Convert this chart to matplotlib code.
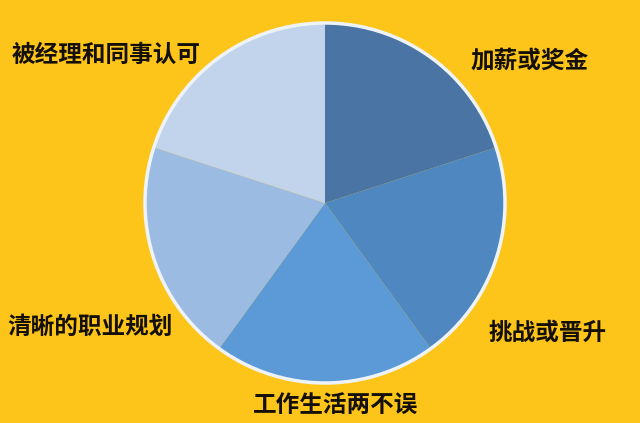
import matplotlib
matplotlib.use("Agg")
import matplotlib.pyplot as plt
from matplotlib.patches import Circle

plt.rcParams['font.family'] = ['Noto Sans CJK SC', 'DejaVu Sans']

# ----- data -----
labels = ["加薪或奖金", "挑战或晋升", "工作生活两不误", "清晰的职业规划", "被经理和同事认可"]
shares = [20, 20, 20, 20, 20]
colors = ["#4a74a4", "#4f87c0", "#5b9ad6", "#9bbbe3", "#c2d3ec"]

# label centres in pixel coords (x, y from top)
label_pos = [(530, 60), (548, 333), (336, 405), (90, 327), (106, 55)]

W, H = 640, 423
CX, CY, R = 325, 203, 180
BG = "#fdc51a"

fig = plt.figure(figsize=(W / 100, H / 100), dpi=100, facecolor=BG)
ax = fig.add_axes([0, 0, 1, 1])
ax.set_facecolor(BG)

ax.pie(shares, colors=colors, startangle=90, counterclock=False,
       center=(CX, H - CY), radius=R, frame=True,
       wedgeprops=dict(linewidth=0))
# thin light rim around the pie
ax.add_patch(Circle((CX, H - CY), R, fill=False, edgecolor="#eef3f8", linewidth=2.5))
ax.set_xlim(0, W)
ax.set_ylim(0, H)
ax.set_aspect("equal")
ax.axis("off")

for text, (x, y) in zip(labels, label_pos):
    ax.text(x, H - y, text, ha="center", va="center",
            fontsize=17, fontweight="heavy", color="#141008")

fig.savefig("out.png", dpi=100, facecolor=BG)
